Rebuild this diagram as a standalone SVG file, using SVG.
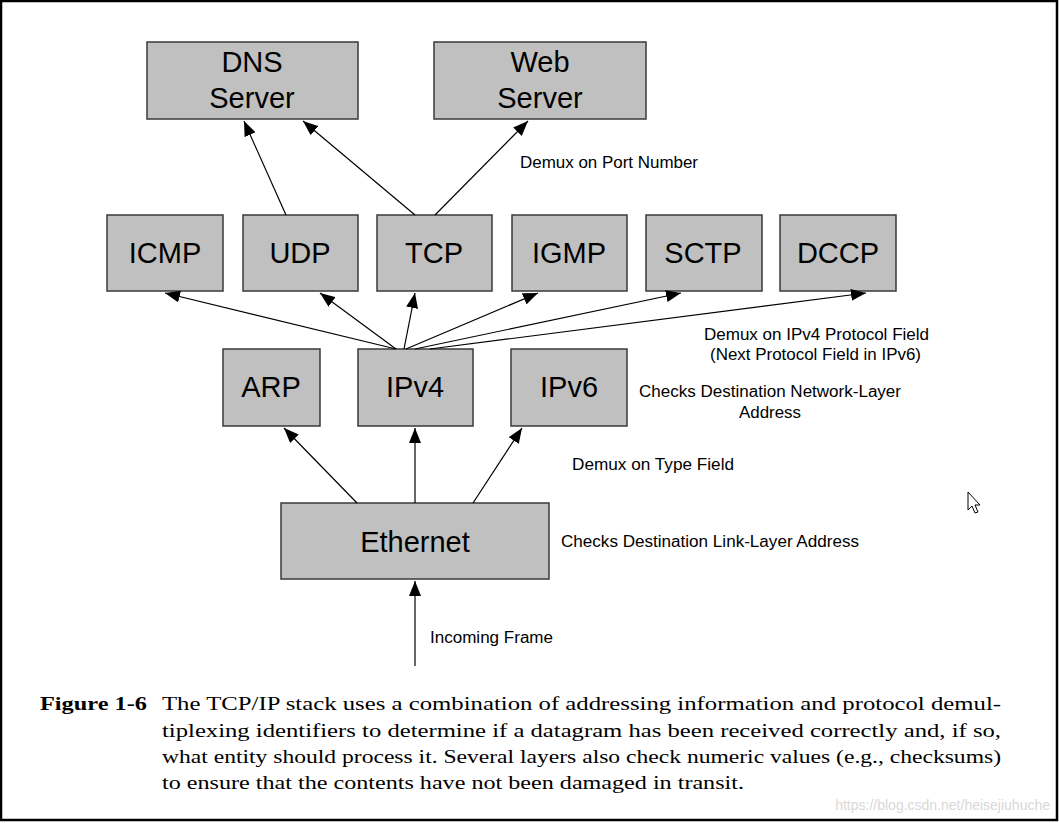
<svg xmlns="http://www.w3.org/2000/svg" width="1059" height="823" viewBox="0 0 1059 823">
<defs>
<marker id="ah" markerUnits="userSpaceOnUse" markerWidth="16" markerHeight="12" refX="15" refY="6" orient="auto">
<path d="M0,0 L15,6 L0,12 Z" fill="#000"/>
</marker>
<style>
.box{fill:#c0c0c0;stroke:#3a3a3a;stroke-width:1.5}
.bl{font-family:"Liberation Sans",Arial,sans-serif;font-size:29px;fill:#000;text-anchor:middle}
.lb{font-family:"Liberation Sans",Arial,sans-serif;font-size:16px;fill:#000}
.cap{font-family:"Liberation Serif","Times New Roman",serif;font-size:19.5px;fill:#000}
.con line{stroke:#000;stroke-width:1.2;marker-end:url(#ah)}
</style>
</defs>
<rect x="0" y="0" width="1059" height="823" fill="#fff"/>
<rect x="1" y="1" width="1056" height="819" fill="none" stroke="#000" stroke-width="2.5"/>

<g id="dns"><rect class="box" x="147" y="42" width="211" height="77"/><text class="bl" x="252" y="72">DNS</text><text class="bl" x="252" y="108">Server</text></g>
<g id="web"><rect class="box" x="434" y="42" width="212" height="77"/><text class="bl" x="540" y="72">Web</text><text class="bl" x="540" y="108">Server</text></g>

<g id="icmp"><rect class="box" x="107" y="215" width="116" height="76"/><text class="bl" x="165" y="263">ICMP</text></g>
<g id="udp"><rect class="box" x="243" y="215" width="115" height="76"/><text class="bl" x="300" y="263">UDP</text></g>
<g id="tcp"><rect class="box" x="377" y="215" width="115" height="76"/><text class="bl" x="434" y="263">TCP</text></g>
<g id="igmp"><rect class="box" x="512" y="215" width="115" height="76"/><text class="bl" x="569" y="263">IGMP</text></g>
<g id="sctp"><rect class="box" x="646" y="215" width="116" height="76"/><text class="bl" x="703" y="263">SCTP</text></g>
<g id="dccp"><rect class="box" x="780" y="215" width="116" height="76"/><text class="bl" x="838" y="263">DCCP</text></g>

<g id="arp"><rect class="box" x="223" y="349" width="97" height="77"/><text class="bl" x="271" y="397">ARP</text></g>
<g id="ipv4"><rect class="box" x="358" y="349" width="115" height="77"/><text class="bl" x="415" y="397">IPv4</text></g>
<g id="ipv6"><rect class="box" x="511" y="349" width="116" height="77"/><text class="bl" x="569" y="397">IPv6</text></g>

<g id="ethernet"><rect class="box" x="281" y="503" width="268" height="76"/><text class="bl" x="415" y="552">Ethernet</text></g>

<g id="connectors" class="con">
<line x1="286" y1="215" x2="244" y2="121"/>
<line x1="415" y1="215" x2="303" y2="121"/>
<line x1="435" y1="215" x2="528" y2="121"/>
<line x1="396" y1="349" x2="165" y2="293"/>
<line x1="396" y1="349" x2="320" y2="293"/>
<line x1="404" y1="349" x2="415" y2="293"/>
<line x1="406" y1="349" x2="538" y2="293"/>
<line x1="415" y1="349" x2="681" y2="293"/>
<line x1="430" y1="349" x2="866" y2="293"/>
<line x1="357" y1="503" x2="284" y2="428"/>
<line x1="415" y1="503" x2="415" y2="428"/>
<line x1="473" y1="503" x2="522" y2="428"/>
<line x1="415" y1="666" x2="415" y2="581"/>
</g>

<g id="labels">
<text class="lb" x="520" y="168" textLength="178" lengthAdjust="spacingAndGlyphs">Demux on Port Number</text>
<text class="lb" x="704" y="340" textLength="225" lengthAdjust="spacingAndGlyphs">Demux on IPv4 Protocol Field</text>
<text class="lb" x="710" y="360" textLength="211" lengthAdjust="spacingAndGlyphs">(Next Protocol Field in IPv6)</text>
<text class="lb" x="639" y="397" textLength="262" lengthAdjust="spacingAndGlyphs">Checks Destination Network-Layer</text>
<text class="lb" x="739" y="418" textLength="62" lengthAdjust="spacingAndGlyphs">Address</text>
<text class="lb" x="572" y="470" textLength="162" lengthAdjust="spacingAndGlyphs">Demux on Type Field</text>
<text class="lb" x="561" y="547" textLength="298" lengthAdjust="spacingAndGlyphs">Checks Destination Link-Layer Address</text>
<text class="lb" x="430" y="643" textLength="123" lengthAdjust="spacingAndGlyphs">Incoming Frame</text>
</g>

<g id="caption">
<text class="cap" x="40" y="710" font-weight="bold" textLength="107" lengthAdjust="spacingAndGlyphs">Figure 1-6</text>
<text class="cap" x="162" y="710" textLength="839" lengthAdjust="spacingAndGlyphs">The TCP/IP stack uses a combination of addressing information and protocol demul-</text>
<text class="cap" x="162" y="737" textLength="839" lengthAdjust="spacingAndGlyphs">tiplexing identifiers to determine if a datagram has been received correctly and, if so,</text>
<text class="cap" x="162" y="763" textLength="839" lengthAdjust="spacingAndGlyphs">what entity should process it. Several layers also check numeric values (e.g., checksums)</text>
<text class="cap" x="162" y="789" textLength="582" lengthAdjust="spacingAndGlyphs">to ensure that the contents have not been damaged in transit.</text>
</g>

<text x="1050" y="810" text-anchor="end" font-family="'Liberation Sans',Arial,sans-serif" font-size="14" fill="#d8d8d8">https://blog.csdn.net/heisejiuhuche</text>

<path d="M968,492 L968,510 L972,506 L975,513 L978,512 L975,505 L980,505 Z" fill="#fff" stroke="#000" stroke-width="1"/>
</svg>
